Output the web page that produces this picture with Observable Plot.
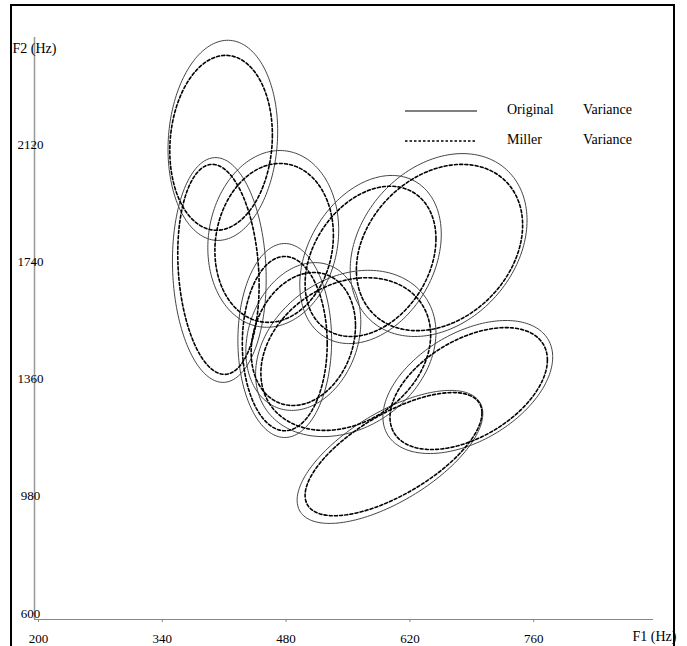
<!DOCTYPE html>
<html>
<head>
<meta charset="utf-8">
<script src="https://cdn.jsdelivr.net/npm/d3@7"></script>
<script src="https://cdn.jsdelivr.net/npm/@observablehq/plot@0.6"></script>
<style>
  html, body { margin: 0; padding: 0; background: white; }
  #wrap { position: relative; width: 687px; height: 646px; overflow: hidden; background: white; }
  #chart { position: absolute; left: 0; top: 0; }
  #border { position: absolute; left: 10px; top: 4px; width: 665px; height: 660px;
            border: 2px solid #000; box-sizing: border-box; pointer-events: none; }
  #legend { position: absolute; left: 0; top: 0; pointer-events: none; }
  #legend text { font-family: "Liberation Serif", "Times New Roman", serif; font-size: 14px; fill: #000; }
</style>
</head>
<body>
<div id="wrap">
  <div id="chart"></div>
  <div id="border"></div>
  <svg id="legend" width="687" height="646">
    <line x1="405" x2="477" y1="111" y2="111" stroke="#000" stroke-width="1"></line>
    <line x1="405" x2="477" y1="141" y2="141" stroke="#000" stroke-width="1.6" stroke-dasharray="2.5,2"></line>
    <text x="507" y="111" dominant-baseline="middle">Original</text>
    <text x="583" y="111" dominant-baseline="middle">Variance</text>
    <text x="507" y="141" dominant-baseline="middle">Miller</text>
    <text x="583" y="141" dominant-baseline="middle">Variance</text>
  </svg>
</div>
<script>
// ---- data (F1, F2 in Hz) ----
const ellipseIds = ["e1","e2","e3","e4","e5","e6","e7","e8","e9","e10"];

// Original variance ellipses
const origF1Center = [413, 409, 470, 580, 657, 483, 504, 552, 690, 602];
const origF2Center = [2136, 1715, 1816, 1749, 1796, 1486, 1499, 1444, 1335, 1108];
const origF1Half   = [62, 53, 74, 80, 100, 53, 65, 102, 96, 105];
const origF2Half   = [325, 365, 287, 273, 297, 315, 240, 270, 216, 216];
const origCorr     = [0.09, -0.08, 0.1, 0.3, 0.27, 0.0, 0.2, 0.25, 0.45, 0.65];

// Miller variance ellipses
const millerF1Center = [411, 408, 471, 580, 658, 483, 504, 552, 691, 606];
const millerF2Center = [2128, 1717, 1803, 1743, 1788, 1476, 1491, 1442, 1330, 1117];
const millerF1Half   = [58, 46, 67, 74, 94, 48, 59, 96, 89, 100];
const millerF2Half   = [284, 341, 258, 244, 270, 283, 216, 248, 198, 200];
const millerCorr     = [0.09, -0.15, 0.1, 0.3, 0.27, 0.0, 0.2, 0.25, 0.47, 0.67];

const xTicks = [200, 340, 480, 620, 760];
const yTicks = [600, 980, 1360, 1740, 2120];

// ---- build ellipse outlines ----
const N = 180;
function outline(ids, cx, cy, ax, by, rho) {
  const pts = [];
  ids.forEach((id, k) => {
    const s = Math.sqrt(1 - rho[k] * rho[k]);
    for (let i = 0; i < N; i++) {
      const t = (2 * Math.PI * i) / N;
      pts.push({
        id,
        f1: cx[k] + ax[k] * Math.cos(t),
        f2: cy[k] + by[k] * (rho[k] * Math.cos(t) - s * Math.sin(t))
      });
    }
  });
  return pts;
}
const original = outline(ellipseIds, origF1Center, origF2Center, origF1Half, origF2Half, origCorr);
const miller = outline(ellipseIds, millerF1Center, millerF2Center, millerF1Half, millerF2Half, millerCorr);

const chart = Plot.plot({
  width: 687,
  height: 646,
  marginLeft: 34,
  marginRight: 34,
  marginTop: 37,
  marginBottom: 27,
  style: { fontFamily: "'Liberation Serif', 'Times New Roman', serif", fontSize: "13px", background: "transparent", color: "#000", overflow: "visible" },
  x: { domain: [200, 900], label: null },
  y: { domain: [580, 2470], label: null },
  marks: [
    Plot.ruleX([200], { stroke: "#999", strokeWidth: 1.5 }),
    Plot.ruleY([580], { stroke: "#888", strokeWidth: 1.2 }),
    Plot.axisY({ ticks: yTicks, tickSize: 2, tickPadding: 2, textAnchor: "middle", stroke: "#888", fill: "#000", fontSize: 13, label: null, tickFormat: d => String(d) }),
    Plot.axisX({ ticks: xTicks, tickSize: 3, tickPadding: 11, dx: 4, stroke: "#888", fill: "#000", fontSize: 13, label: null, tickFormat: d => String(d) }),
    Plot.line(original, { x: "f1", y: "f2", z: "id", curve: "linear-closed", stroke: "#444", strokeWidth: 1 }),
    Plot.line(miller, { x: "f1", y: "f2", z: "id", curve: "linear-closed", stroke: "#000", strokeWidth: 1.6, strokeDasharray: "3,2.2" }),
    Plot.text(["F2 (Hz)"], { frameAnchor: "top-left", dx: -22, dy: 6, textAnchor: "start", fontSize: 14, fill: "#000" }),
    Plot.text(["F1 (Hz)"], { frameAnchor: "bottom-right", dx: -21, dy: 21, textAnchor: "start", fontSize: 14, fill: "#000" })
  ]
});
document.getElementById("chart").appendChild(chart);
</script>
</body>
</html>
